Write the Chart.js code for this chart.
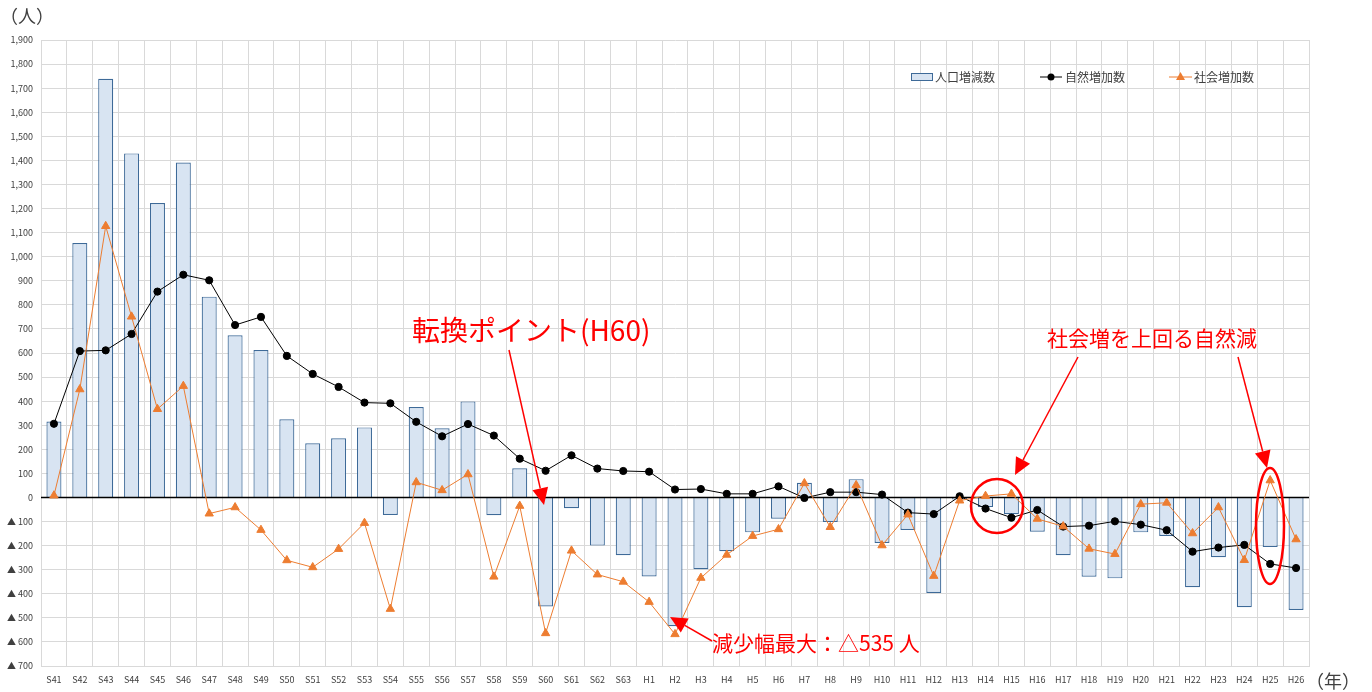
<!DOCTYPE html>
<html lang="ja">
<head>
<meta charset="UTF-8">
<title>人口増減数の推移</title>
<script src="https://cdn.jsdelivr.net/npm/chart.js"></script>
<style>
  body { margin: 0; background: #fff; }
  canvas { display: block; }
</style>
</head>
<body>
<canvas id="popChart" width="1372" height="692"></canvas>
<script>
// 年（昭和41年〜平成26年）
const years = ['S41','S42','S43','S44','S45','S46','S47','S48','S49','S50','S51','S52','S53','S54','S55','S56','S57','S58','S59','S60','S61','S62','S63',
  'H1','H2','H3','H4','H5','H6','H7','H8','H9','H10','H11','H12','H13','H14','H15','H16','H17','H18','H19','H20','H21','H22','H23','H24','H25','H26'];

// 人口増減数
const popChange = [315,1057,1739,1429,1223,1391,834,674,612,325,225,246,291,-73,376,287,399,-74,121,-453,-45,-200,-240,
  -328,-535,-298,-223,-145,-88,61,-102,76,-189,-135,-397,-8,-40,-70,-142,-240,-329,-336,-145,-160,-373,-248,-456,-206,-467];

// 自然増加数
const naturalInc = [306,608,611,679,855,925,902,716,750,588,513,459,394,391,314,254,305,257,161,111,175,120,110,
  107,33,35,15,15,46,-2,22,22,12,-63,-69,5,-46,-84,-52,-121,-117,-99,-113,-136,-225,-208,-197,-276,-293];

// 社会増加数
const socialInc = [8,449,1127,751,367,463,-67,-41,-135,-261,-290,-214,-106,-463,63,30,96,-329,-35,-564,-221,-320,-350,
  -434,-568,-334,-238,-160,-132,59,-123,51,-199,-71,-326,-13,6,15,-89,-120,-213,-235,-28,-22,-149,-41,-260,71,-174];

const yMin = -700, yMax = 1900, yStep = 100;

const JP = "'Noto Sans CJK JP', sans-serif";
const RED = '#ff0000';

function arrow(ctx, x1, y1, x2, y2) {
  const ang = Math.atan2(y2 - y1, x2 - x1);
  const len = 17, half = 8;
  const bx = x2 - len * Math.cos(ang), by = y2 - len * Math.sin(ang);
  ctx.beginPath();
  ctx.moveTo(x1, y1);
  ctx.lineTo(bx, by);
  ctx.stroke();
  ctx.beginPath();
  ctx.moveTo(x2, y2);
  ctx.lineTo(bx + half * Math.sin(ang), by - half * Math.cos(ang));
  ctx.lineTo(bx - half * Math.sin(ang), by + half * Math.cos(ang));
  ctx.closePath();
  ctx.fill();
}

const overlay = {
  id: 'overlay',
  afterDatasetDraw(chart, args) {
    if (args.index !== 0) return;
    // 0 の軸線
    const { ctx, chartArea } = chart;
    const y0 = chart.scales.y.getPixelForValue(0);
    ctx.save();
    ctx.strokeStyle = '#000';
    ctx.lineWidth = 1.5;
    ctx.beginPath();
    ctx.moveTo(chartArea.left, y0);
    ctx.lineTo(chartArea.right, y0);
    ctx.stroke();
    ctx.restore();
  },
  afterDraw(chart) {
    const ctx = chart.ctx;
    ctx.save();

    // 単位
    ctx.fillStyle = '#404040';
    ctx.font = '18px ' + JP;
    ctx.textBaseline = 'middle';
    ctx.textAlign = 'left';
    ctx.fillText('（人）', 0, 16);
    ctx.fillText('（年）', 1306, 681);

    // 凡例
    ctx.font = '12px ' + JP;
    ctx.fillStyle = '#d8e4f2';
    ctx.strokeStyle = '#3e6a98';
    ctx.lineWidth = 1;
    ctx.fillRect(911.5, 73.5, 21, 7);
    ctx.strokeRect(911.5, 73.5, 21, 7);
    ctx.fillStyle = '#404040';
    ctx.fillText('人口増減数', 935, 77);

    ctx.strokeStyle = '#000';
    ctx.beginPath(); ctx.moveTo(1040, 77); ctx.lineTo(1062, 77); ctx.stroke();
    ctx.fillStyle = '#000';
    ctx.beginPath(); ctx.arc(1051, 77, 3.5, 0, Math.PI * 2); ctx.fill();
    ctx.fillStyle = '#404040';
    ctx.fillText('自然増加数', 1065, 77);

    ctx.strokeStyle = '#ed7d31';
    ctx.beginPath(); ctx.moveTo(1169, 77); ctx.lineTo(1192, 77); ctx.stroke();
    ctx.fillStyle = '#ed7d31';
    ctx.beginPath(); ctx.moveTo(1180.5, 72); ctx.lineTo(1185, 80); ctx.lineTo(1176, 80); ctx.closePath(); ctx.fill();
    ctx.fillStyle = '#404040';
    ctx.fillText('社会増加数', 1194, 77);

    // 注記
    ctx.fillStyle = RED;
    ctx.strokeStyle = RED;
    ctx.lineWidth = 1.5;
    ctx.font = '28px ' + JP;
    ctx.fillText('転換ポイント(H60)', 412, 330);
    arrow(ctx, 509, 350, 544, 505);

    ctx.font = '21px ' + JP;
    ctx.fillText('減少幅最大：△535 人', 712, 643);
    arrow(ctx, 712, 641, 670, 617);

    ctx.fillText('社会増を上回る自然減', 1047, 338);
    arrow(ctx, 1078, 357, 1015, 475);
    arrow(ctx, 1238, 357, 1267, 468);

    ctx.lineWidth = 2.5;
    ctx.beginPath(); ctx.ellipse(997, 506, 26, 27, 0, 0, Math.PI * 2); ctx.stroke();
    ctx.beginPath(); ctx.ellipse(1270, 526, 14, 58, 0, 0, Math.PI * 2); ctx.stroke();

    ctx.restore();
  }
};

const ctx = document.getElementById('popChart').getContext('2d');
new Chart(ctx, {
  type: 'bar',
  data: {
    labels: years,
    datasets: [
      {
        type: 'bar',
        label: '人口増減数',
        data: popChange,
        backgroundColor: '#d8e4f2',
        borderColor: '#3e6a98',
        borderWidth: 1.2,
        barPercentage: 0.58,
        categoryPercentage: 1,
        order: 3
      },
      {
        type: 'line',
        label: '自然増加数',
        data: naturalInc,
        borderColor: '#000',
        backgroundColor: '#000',
        borderWidth: 1,
        pointRadius: 3.6,
        pointStyle: 'circle',
        order: 2
      },
      {
        type: 'line',
        label: '社会増加数',
        data: socialInc,
        borderColor: '#ed7d31',
        backgroundColor: '#ed7d31',
        borderWidth: 1,
        pointRadius: 4.8,
        pointStyle: 'triangle',
        order: 1
      }
    ]
  },
  options: {
    responsive: false,
    animation: false,
    layout: { padding: { top: 40, right: 63, left: 0, bottom: 0 } },
    plugins: {
      legend: { display: false },
      tooltip: { enabled: false }
    },
    scales: {
      x: {
        grid: { color: '#d9d9d9', drawTicks: false },
        border: { color: '#d9d9d9' },
        ticks: {
          autoSkip: false, maxRotation: 0, padding: 8,
          color: '#404040', font: { size: 9, family: JP }
        },
        afterFit(scale) { scale.height = 26; }
      },
      y: {
        min: yMin,
        max: yMax,
        grid: { color: '#d9d9d9', drawTicks: false },
        border: { color: '#d9d9d9' },
        ticks: {
          stepSize: yStep, padding: 8,
          color: '#404040', font: { size: 9, family: JP },
          callback(v) {
            const s = Math.abs(v).toLocaleString('en-US');
            return v < 0 ? '▲ ' + s : s;
          }
        },
        afterFit(scale) { scale.width = 41; }
      }
    }
  },
  plugins: [overlay]
});
</script>
</body>
</html>
